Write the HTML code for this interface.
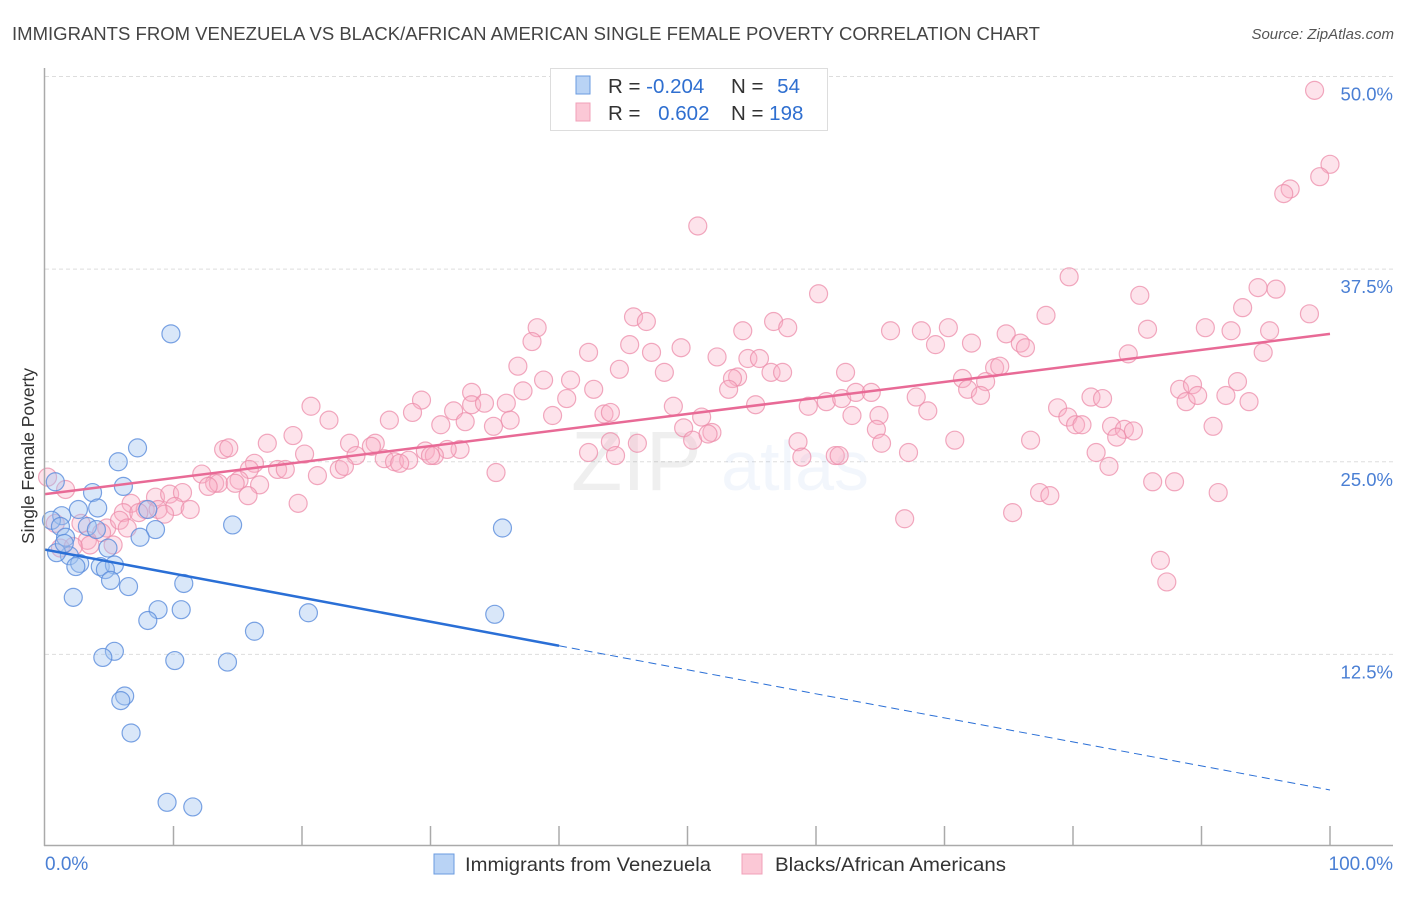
<!DOCTYPE html>
<html><head><meta charset="utf-8"><style>
body{margin:0;background:#fff;font-family:"Liberation Sans",sans-serif;}
svg text{font-family:"Liberation Sans",sans-serif;}
</style></head><body>
<svg id="chart" width="1406" height="892" xmlns="http://www.w3.org/2000/svg">
<text x="12" y="40" font-size="18" fill="#444" textLength="1028" lengthAdjust="spacingAndGlyphs">IMMIGRANTS FROM VENEZUELA VS BLACK/AFRICAN AMERICAN SINGLE FEMALE POVERTY CORRELATION CHART</text>
<text x="1394" y="39" font-size="15" fill="#555" font-style="italic" text-anchor="end">Source: ZipAtlas.com</text>
<g id="grid"></g>
<text x="720" y="490" font-size="84" fill="#000" opacity="0.06" text-anchor="middle" font-family="Liberation Serif">ZIP<tspan fill="#3a78d0" opacity="1.6" font-family="Liberation Sans" font-size="70"> atlas</tspan></text>
<g id="pts-pink"></g>
<g id="pts-blue"></g>
<g id="trends"></g>
<line x1="44.5" y1="68" x2="44.5" y2="846" stroke="#aaa" stroke-width="1.5"/>
<line x1="44" y1="845.5" x2="1393" y2="845.5" stroke="#aaa" stroke-width="1.5"/>
<g id="xticks"></g>
<g id="ylabels"></g>
<text transform="translate(34,456) rotate(-90)" font-size="17.5" fill="#333" text-anchor="middle">Single Female Poverty</text>
<text x="45" y="870" font-size="19" fill="#4a7fd4">0.0%</text>
<text x="1393" y="870" font-size="19" fill="#4a7fd4" text-anchor="end">100.0%</text>
<g>
<rect x="550.5" y="68.5" width="277" height="62" fill="#fff" stroke="#ddd"/>
<rect x="576" y="76" width="14" height="18" fill="#b9d3f5" stroke="#6a9be0"/>
<rect x="576" y="103" width="14" height="18" fill="#fbc8d6" stroke="#f0a0b8"/>
<text x="608" y="93" font-size="20.5" fill="#333">R = <tspan fill="#2f6fd0">-0.204</tspan></text>
<text x="731" y="93" font-size="20.5" fill="#333">N = <tspan fill="#2f6fd0" dx="8">54</tspan></text>
<text x="608" y="120" font-size="20.5" fill="#333">R = <tspan fill="#2f6fd0" dx="12">0.602</tspan></text>
<text x="731" y="120" font-size="20.5" fill="#333">N = <tspan fill="#2f6fd0">198</tspan></text>
</g>
<g>
<rect x="434" y="854" width="20" height="20" fill="#b9d3f5" stroke="#6a9be0"/>
<text x="465" y="871" font-size="19.5" fill="#333" textLength="246" lengthAdjust="spacingAndGlyphs">Immigrants from Venezuela</text>
<rect x="742" y="854" width="20" height="20" fill="#fbc8d6" stroke="#f0a0b8"/>
<text x="775" y="871" font-size="19.5" fill="#333" textLength="231" lengthAdjust="spacingAndGlyphs">Blacks/African Americans</text>
</g>
</svg>
<script>
const yTicks=[12.5,25,37.5,50];
const yTickLabels=["12.5%","25.0%","37.5%","50.0%"];
const xTickVals=[10,20,30,40,50,60,70,80,90,100];
const blueX=[9.8,7.2,5.7,6.1,3.7,0.8,4.1,2.6,1.3,0.5,8.0,14.6,8.6,7.4,1.2,3.3,1.6,4.9,1.9,0.9,2.7,2.4,4.3,5.4,4.7,5.1,6.5,10.8,2.2,8.8,10.6,8.0,20.5,35.0,35.6,16.3,5.4,4.5,10.1,14.2,6.2,5.9,6.7,9.5,11.5,1.5,4.0];
const blueY=[33.3,25.9,25.0,23.4,23.0,23.7,22.0,21.9,21.5,21.2,21.9,20.9,20.6,20.1,20.8,20.8,20.1,19.4,18.9,19.1,18.4,18.2,18.2,18.3,18.0,17.3,16.9,17.1,16.2,15.4,15.4,14.7,15.2,15.1,20.7,14.0,12.7,12.3,12.1,12.0,9.8,9.5,7.4,2.9,2.6,19.7,20.6];
const pinkX=[98.8,100,99.2,96.9,96.4,50.8,79.7,60.2,85.2,94.4,95.8,93.2,98.4,45.8,46.8,38.3,77.9,65.8,68.2,70.3,74.8,85.8,90.3,92.3,95.3,54.3,56.7,57.8,37.9,45.5,49.5,69.3,72.1,75.9,76.3,94.8,42.3,47.2,52.3,54.7,55.6,84.3,36.8,44.7,48.2,62.3,53.9,56.5,57.4,73.9,74.3,38.8,40.9,53.5,71.4,73.2,33.2,37.2,42.7,29.3,33.2,34.2,35.9,40.6,53.2,60.8,62.0,63.1,64.3,67.8,71.8,72.8,81.4,82.3,88.3,89.3,88.8,89.7,91.9,92.8,93.7,20.7,28.6,31.8,39.5,43.5,44.0,48.9,51.1,55.3,59.4,62.8,64.9,68.7,78.8,79.6,80.2,80.7,22.1,26.8,30.8,32.7,36.2,34.9,49.7,51.9,64.7,83.0,84.0,84.7,90.9,19.3,17.3,25.7,23.7,25.4,29.6,32.3,31.3,30.3,44.0,46.1,50.4,51.6,65.1,70.8,76.7,83.4,13.9,14.3,20.2,24.2,26.4,27.2,30.0,28.3,27.6,42.3,44.4,58.6,58.9,61.5,61.8,67.2,81.8,82.8,16.3,15.9,18.1,18.7,21.2,22.9,23.3,35.1,12.2,15.1,16.7,13.2,13.5,12.7,14.8,87.9,86.2,77.4,78.2,91.3,8.6,9.7,10.7,15.8,6.7,7.8,8.8,10.1,11.3,19.7,6.1,7.3,9.3,75.3,66.9,0.2,1.6,0.8,2.8,4.8,4.4,5.8,6.4,3.3,3.5,5.3,1.2,2.2,86.8,87.3];
const pinkY=[49.1,44.3,43.5,42.7,42.4,40.3,37.0,35.9,35.8,36.3,36.2,35.0,34.6,34.4,34.1,33.7,34.5,33.5,33.5,33.7,33.3,33.6,33.7,33.5,33.5,33.5,34.1,33.7,32.8,32.6,32.4,32.6,32.7,32.7,32.4,32.1,32.1,32.1,31.8,31.7,31.7,32.0,31.2,31.0,30.8,30.8,30.5,30.8,30.8,31.1,31.2,30.3,30.3,30.4,30.4,30.2,29.5,29.6,29.7,29.0,28.7,28.8,28.8,29.1,29.7,28.9,29.1,29.5,29.5,29.2,29.7,29.3,29.2,29.1,29.7,30.0,28.9,29.3,29.3,30.2,28.9,28.6,28.2,28.3,28.0,28.1,28.2,28.6,27.9,28.7,28.6,28.0,28.0,28.3,28.5,27.9,27.4,27.4,27.7,27.7,27.4,27.6,27.7,27.3,27.2,26.9,27.1,27.3,27.1,27.0,27.3,26.7,26.2,26.2,26.2,26.0,25.7,25.8,25.8,25.4,26.3,26.2,26.4,26.8,26.2,26.4,26.4,26.6,25.8,25.9,25.5,25.4,25.2,25.0,25.4,25.1,24.9,25.6,25.4,26.3,25.3,25.4,25.4,25.6,25.6,24.7,24.9,24.5,24.5,24.5,24.1,24.5,24.7,24.3,24.2,23.8,23.5,23.6,23.6,23.4,23.6,23.7,23.7,23.0,22.8,23.0,22.7,22.9,23.0,22.8,22.3,21.9,21.9,22.1,21.9,22.3,21.7,21.7,21.6,21.7,21.3,24.0,23.2,21.0,21.0,20.7,20.4,21.2,20.7,19.9,19.6,19.6,19.4,19.5,18.6,17.2];
const blueTrend=[19.3,3.7];const blueSolidEnd=40;
const pinkTrend=[22.9,33.3];

const NS="http://www.w3.org/2000/svg";
const sx=v=>45+v*12.85, sy=v=>847-v*15.41;
function mk(tag,attrs,parent){const e=document.createElementNS(NS,tag);for(const k in attrs)e.setAttribute(k,attrs[k]);parent.appendChild(e);return e;}
const grid=document.getElementById('grid');
yTicks.forEach((t,i)=>{
 const l=mk('line',{x1:45,x2:1393,y1:sy(t),y2:sy(t),stroke:'#ddd','stroke-dasharray':'4,3'},grid);
 
 
 const tx=mk('text',{x:1393,y:sy(t)+24,'font-size':18.5,fill:'#4a7fd4','text-anchor':'end'},document.getElementById('ylabels'));
 tx.textContent=yTickLabels[i];
 
 
});
xTickVals.forEach(v=>{
 const l=mk('line',{x1:sx(v),x2:sx(v),y1:826,y2:846,stroke:'#aaa','stroke-width':1.5},document.getElementById('xticks'));
 
 
});
const gp=document.getElementById('pts-pink');
pinkX.forEach((x,i)=>{
 const c=mk('circle',{cx:sx(x),cy:sy(pinkY[i]),r:9,fill:'rgba(248,175,198,0.35)',stroke:'rgba(236,140,170,0.75)','stroke-width':1.2},gp);
 
 
});
const gb=document.getElementById('pts-blue');
blueX.forEach((x,i)=>{
 const c=mk('circle',{cx:sx(x),cy:sy(blueY[i]),r:9,fill:'rgba(160,196,240,0.4)',stroke:'rgba(90,140,220,0.8)','stroke-width':1.2},gb);
 
 
});
const tr=document.getElementById('trends');
const by=x=>blueTrend[0]+(blueTrend[1]-blueTrend[0])*x/100;
let l1=mk('line',{x1:sx(0),y1:sy(by(0)),x2:sx(blueSolidEnd),y2:sy(by(blueSolidEnd)),stroke:'#2a6fd6','stroke-width':2.5},tr);


let l2=mk('line',{x1:sx(blueSolidEnd),y1:sy(by(blueSolidEnd)),x2:sx(100),y2:sy(by(100)),stroke:'#2a6fd6','stroke-width':1,'stroke-dasharray':'8,5'},tr);


let l3=mk('line',{x1:sx(0),y1:sy(pinkTrend[0]),x2:sx(100),y2:sy(pinkTrend[1]),stroke:'#e86a96','stroke-width':2.5},tr);


</script>
</body></html>
